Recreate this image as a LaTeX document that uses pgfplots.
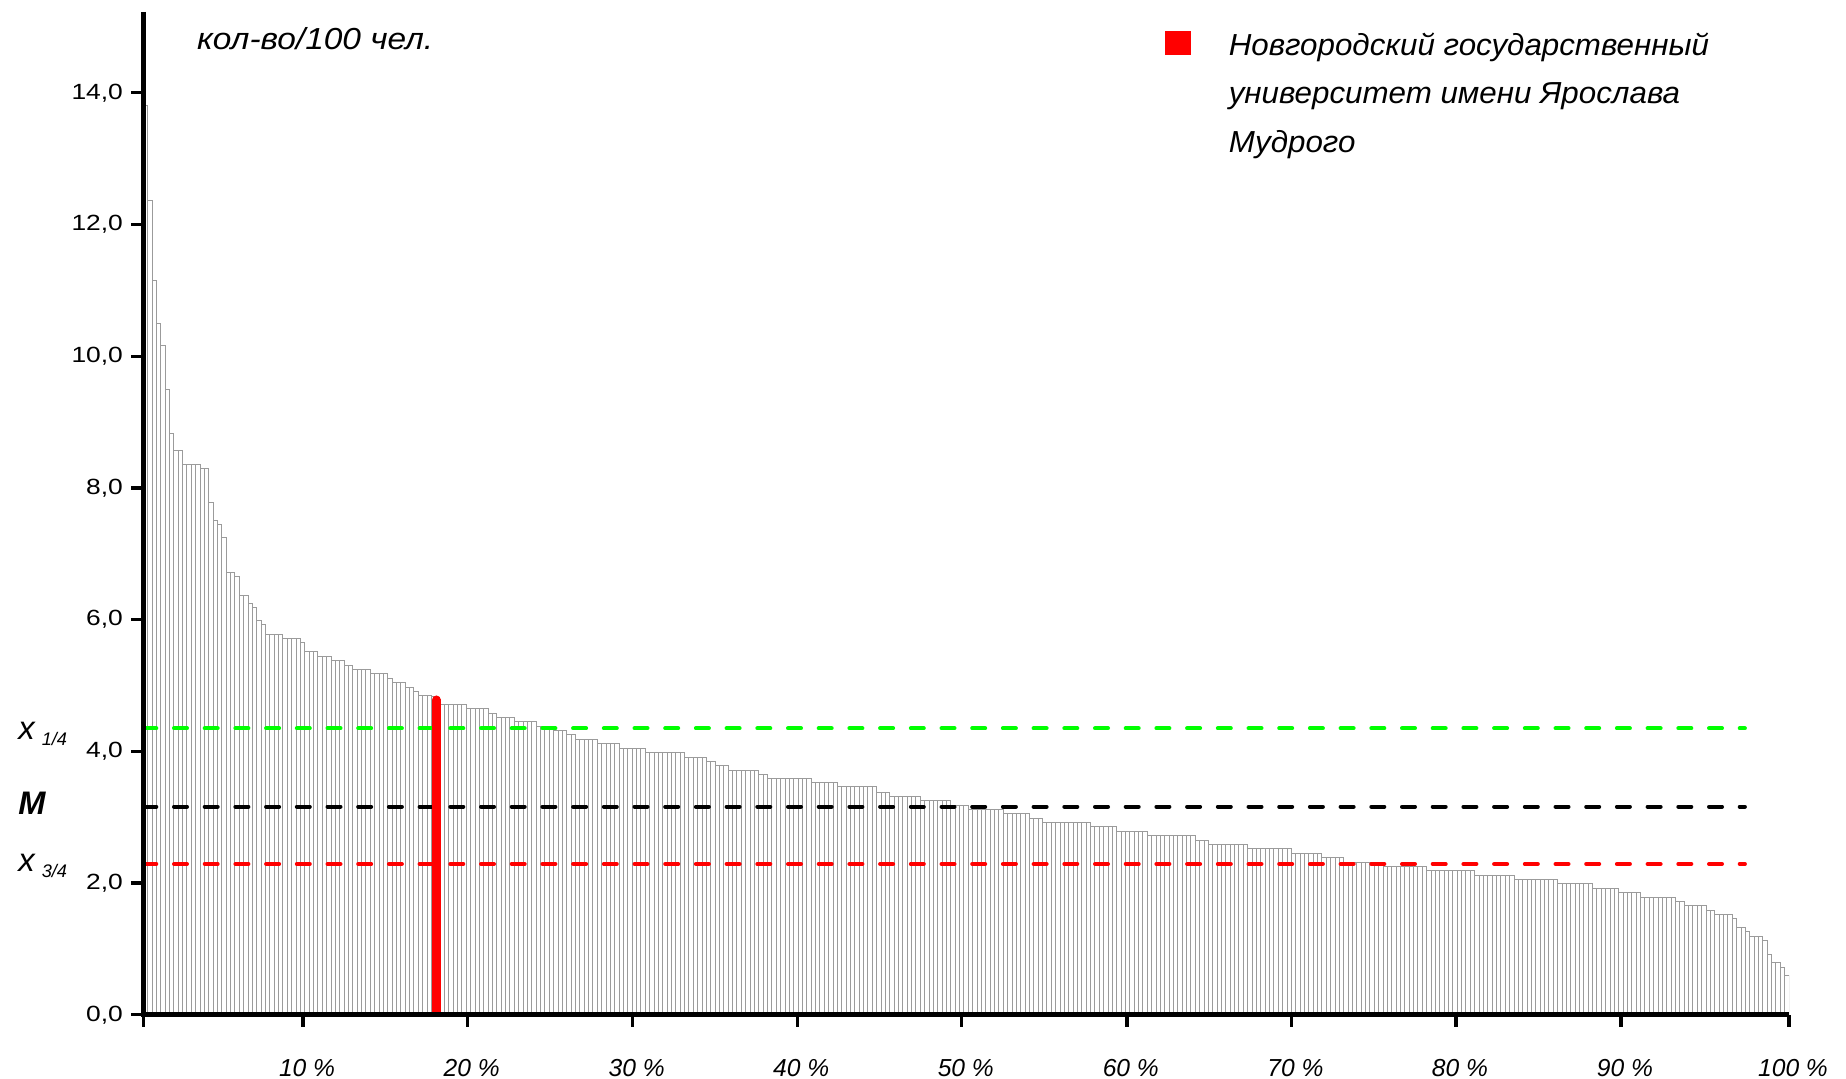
\documentclass[border=0pt]{standalone}
\usepackage{fontspec}
\setmainfont{Liberation Sans}
\newfontfamily\fA[FakeStretch=1.1]{Liberation Sans}
\newfontfamily\fL[FakeStretch=1.03]{Liberation Sans}
\newfontfamily\fB[FakeStretch=1.2]{Liberation Sans}
\usepackage{pgfplots}
\usepackage{pgfplotstable}
\pgfplotsset{compat=1.18}
\definecolor{barline}{RGB}{155,155,155}
\definecolor{qgreen}{RGB}{0,255,0}

\pgfplotstableread[row sep=\\]{%
v\\%
13.81\\12.36\\11.15\\10.50\\10.17\\9.50\\8.83\\8.57\\8.57\\%
8.36\\8.36\\8.36\\8.36\\8.30\\8.30\\7.78\\7.51\\7.44\\7.24\\%
6.71\\6.71\\6.65\\6.37\\6.37\\6.25\\6.18\\5.98\\5.92\\%
5.77\\5.77\\5.77\\5.77\\5.72\\5.72\\5.72\\5.72\\5.65\\%
5.51\\5.51\\5.51\\5.44\\5.44\\5.44\\5.38\\5.38\\5.38\\5.31\\5.31\\%
5.25\\5.25\\5.25\\5.25\\5.18\\5.18\\5.18\\5.18\\5.11\\5.05\\5.05\\5.05\\%
4.97\\4.97\\4.91\\4.85\\4.85\\4.85\\4.83\\4.78\\%
4.71\\4.71\\4.71\\4.71\\4.71\\4.71\\4.65\\4.65\\4.65\\4.65\\4.65\\%
4.57\\4.57\\4.52\\4.52\\4.52\\4.52\\4.45\\4.45\\4.45\\4.45\\4.45\\%
4.38\\4.38\\4.38\\4.38\\4.32\\4.32\\4.32\\4.25\\4.25\\%
4.18\\4.18\\4.18\\4.18\\4.18\\4.12\\4.12\\4.12\\4.12\\4.12\\%
4.04\\4.04\\4.04\\4.04\\4.04\\4.04\\3.99\\3.99\\3.99\\3.99\\3.99\\3.99\\3.99\\3.99\\3.99\\%
3.91\\3.91\\3.91\\3.91\\3.91\\3.85\\3.85\\3.78\\3.78\\3.78\\%
3.71\\3.71\\3.71\\3.71\\3.71\\3.71\\3.71\\3.65\\3.65\\%
3.59\\3.59\\3.59\\3.59\\3.59\\3.59\\3.59\\3.59\\3.59\\3.59\\%
3.52\\3.52\\3.52\\3.52\\3.52\\3.52\\3.46\\3.46\\3.46\\3.46\\3.46\\3.46\\3.46\\3.46\\3.46\\%
3.38\\3.38\\3.38\\3.32\\3.32\\3.32\\3.32\\3.32\\3.32\\3.32\\%
3.25\\3.25\\3.25\\3.25\\3.25\\3.25\\3.25\\3.18\\3.18\\3.18\\3.18\\%
3.12\\3.12\\3.12\\3.12\\3.12\\3.12\\3.12\\3.12\\3.06\\3.06\\3.06\\3.06\\3.06\\3.06\\%
2.98\\2.98\\2.98\\2.92\\2.92\\2.92\\2.92\\2.92\\2.92\\2.92\\2.92\\2.92\\2.92\\2.92\\%
2.86\\2.86\\2.86\\2.86\\2.86\\2.86\\2.79\\2.79\\2.79\\2.79\\2.79\\2.79\\2.79\\%
2.73\\2.73\\2.73\\2.73\\2.73\\2.73\\2.73\\2.73\\2.73\\2.73\\2.73\\2.65\\2.65\\2.65\\%
2.59\\2.59\\2.59\\2.59\\2.59\\2.59\\2.59\\2.59\\2.59\\2.52\\2.52\\2.52\\2.52\\2.52\\2.52\\2.52\\2.52\\2.52\\2.52\\%
2.45\\2.45\\2.45\\2.45\\2.45\\2.45\\2.45\\2.39\\2.39\\2.39\\2.39\\2.39\\%
2.32\\2.32\\2.32\\2.32\\2.32\\2.32\\2.32\\2.32\\2.32\\2.25\\2.25\\2.25\\2.25\\2.25\\2.25\\2.25\\2.25\\2.25\\2.25\\%
2.19\\2.19\\2.19\\2.19\\2.19\\2.19\\2.19\\2.19\\2.19\\2.19\\2.19\\2.12\\2.12\\2.12\\2.12\\2.12\\2.12\\2.12\\2.12\\2.12\\%
2.05\\2.05\\2.05\\2.05\\2.05\\2.05\\2.05\\2.05\\2.05\\2.05\\1.99\\1.99\\1.99\\1.99\\1.99\\1.99\\1.99\\1.99\\%
1.92\\1.92\\1.92\\1.92\\1.92\\1.92\\1.85\\1.85\\1.85\\1.85\\1.85\\1.78\\1.78\\1.78\\1.78\\1.78\\1.78\\1.78\\1.78\\%
1.72\\1.72\\1.66\\1.66\\1.66\\1.66\\1.66\\1.58\\1.58\\1.53\\1.53\\1.53\\1.53\\%
1.46\\1.32\\1.32\\1.26\\1.19\\1.19\\1.19\\1.13\\0.92\\0.79\\0.79\\0.72\\0.59\\%
}\bars

\begin{document}
\begin{tikzpicture}
\useasboundingbox (0,0) rectangle (923pt,539.5pt);
\begin{axis}[
  at={(71.65pt,32.1pt)}, anchor=south west,
  scale only axis, width=822.85pt, height=501.5pt,
  xmin=0, xmax=377, ymin=0, ymax=15.23,
  axis lines=left,
  axis line style={-, line width=2.4pt, black},
  every outer x axis line/.append style={-, line width=2.4pt, black},
  every outer y axis line/.append style={-, line width=2.4pt, black},
  xtick={0,36.6,74.3,112.1,149.8,187.5,225.3,263.0,300.7,338.5,377},
  xticklabels={,10 \%,20 \%,30 \%,40 \%,50 \%,60 \%,70 \%,80 \%,90 \%,100 \%},
  ytick={0,2,4,6,8,10,12,14},
  yticklabels={{0,0},{2,0},{4,0},{6,0},{8,0},{10,0},{12,0},{14,0}},
  tick align=outside,
  major tick length=6pt,
  every tick/.style={black, line width=1.7pt},
  every major tick/.style={black, line width=1.7pt},
  xtick style={black, line width=1.7pt},
  ytick style={black, line width=1.7pt},
  xticklabel style={font=\fontsize{12.3}{14}\selectfont\itshape, anchor=north, inner sep=0pt, yshift=-16pt, xshift=2pt},
  yticklabel style={font=\fB\fontsize{11}{12}\selectfont, anchor=east, inner sep=0pt, xshift=-4pt},
  legend cell align=left,
  legend style={draw=none, fill=none, at={(0.6208,0.9906)}, anchor=north west,
    inner sep=0pt, column sep=0pt, nodes={inner sep=0pt}},
  after end axis/.code={%
    \draw[black, line width=2.4pt] (rel axis cs:0,1) -- (rel axis cs:0,0) -- (rel axis cs:1,0);
  },
]
\addplot[ybar, bar width=1, bar shift=0pt, draw=barline, fill=white, line width=0.5pt, forget plot]
  table[x expr=\coordindex+0.5, y=v] {\bars};
\addplot[qgreen, line width=2pt, line cap=round, dash pattern=on 6.5pt off 8.85pt, forget plot]
  coordinates {(0,4.35) (366.9,4.35)};
\addplot[black, line width=2pt, line cap=round, dash pattern=on 6.5pt off 8.85pt, forget plot]
  coordinates {(0,3.16) (366.9,3.16)};
\addplot[red, line width=2pt, line cap=round, dash pattern=on 6.5pt off 8.85pt, forget plot]
  coordinates {(0,2.29) (366.9,2.29)};
\addplot[ycomb, red, line width=4.5pt, line cap=round, forget plot]
  coordinates {(67.1,4.78)};
\addlegendimage{legend image code/.code={\fill[red] (0pt,-7.35pt) rectangle (12.5pt,4.15pt); \path (31.3pt,0pt);}}
\addlegendentry{\fL\fontsize{15.2}{24.2}\selectfont\itshape\begin{tabular}[t]{@{}l@{}}Новгородский государственный\\университет имени Ярослава\\Мудрого\end{tabular}}
\end{axis}
\node[anchor=base west, inner sep=0pt] at (98.3pt,514.6pt) {\fA\fontsize{15.2}{18}\selectfont\itshape кол-во/100 чел.};
\node[anchor=base west, inner sep=0pt] at (9pt,169.5pt) {\fontsize{16.4}{18}\selectfont\itshape x\hspace{3.5pt}\fontsize{9.1}{10}\selectfont\raisebox{-3pt}{1/4}};
\node[anchor=base west, inner sep=0pt] at (9pt,132pt) {\fontsize{16.3}{18}\selectfont\bfseries\itshape M};
\node[anchor=base west, inner sep=0pt] at (9pt,103.6pt) {\fontsize{16.4}{18}\selectfont\itshape x\hspace{3.5pt}\fontsize{9.1}{10}\selectfont\raisebox{-3pt}{3/4}};
\end{tikzpicture}
\end{document}
